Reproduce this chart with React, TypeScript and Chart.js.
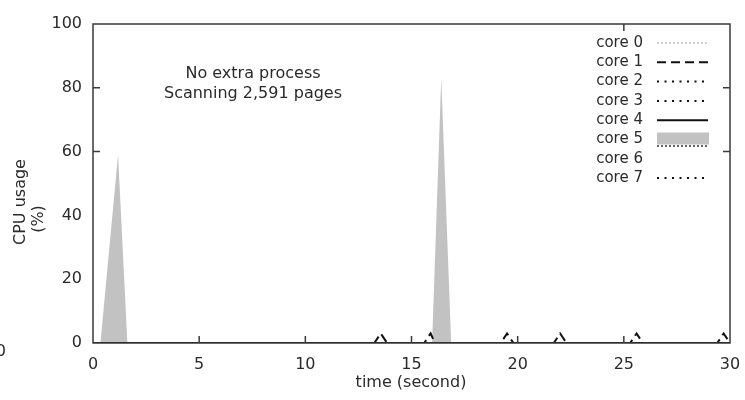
import React, { useEffect, useRef } from "react";
import { Chart, registerables } from "chart.js";

Chart.register(...registerables);

// ---- data ----
const coreLabels = ["core 0", "core 1", "core 2", "core 3", "core 4", "core 5", "core 6", "core 7"];

const flatTime = [0, 30];
const flatVals = [0, 0];

const core1Time = [0, 13.25, 13.55, 13.85, 15.6, 15.9, 16.1, 19.2, 19.5, 19.8, 21.7, 22.0, 22.3, 25.3, 25.6, 25.9, 29.4, 29.7, 30];
const core1Vals = [0, 0, 3, 0, 0, 3, 0, 0, 3, 0, 0, 3, 0, 0, 3, 0, 0, 3, 0];

const core5Time = [0, 0.35, 1.18, 1.62, 15.97, 16.4, 16.87, 30];
const core5Vals = [0, 0, 59, 0, 0, 83, 0, 0];

const xTicks = [0, 5, 10, 15, 20, 25, 30];
const yTicks = [0, 20, 40, 60, 80, 100];
const innerTicksBottom = [5, 10, 15, 20, 25];
const innerTicksTop = [25];
const innerTicksY = [60, 80];

const annotationLines = ["No extra process", "Scanning 2,591 pages"];
const xTitle = "time (second)";
const yTitleLines = ["CPU usage", "(%)"];

const FONT = "DejaVu Sans";
const TEXT = "#2a2a2a";

const toPoints = (t: number[], v: number[]) => t.map((x, i) => ({ x, y: v[i] }));

type LegendStyle = { kind: string; color: string; dash: number[]; width: number };
const legendStyles: LegendStyle[] = [
  { kind: "line", color: "#bdbdbd", dash: [2, 2], width: 1.5 },
  { kind: "line", color: "#111", dash: [9, 5], width: 2 },
  { kind: "line", color: "#111", dash: [2, 5.5], width: 2 },
  { kind: "line", color: "#111", dash: [2, 5.5], width: 2 },
  { kind: "line", color: "#111", dash: [], width: 2 },
  { kind: "box", color: "#c2c2c2", dash: [2, 2], width: 1.5 },
  { kind: "none", color: "#fff", dash: [], width: 0 },
  { kind: "line", color: "#111", dash: [2, 5.5], width: 2 },
];

const decorPlugin = {
  id: "decor",
  afterDatasetsDraw(chart: any) {
    const { ctx, chartArea: a, scales } = chart;
    const xs = scales.x;
    const ys = scales.y;
    ctx.save();
    // border box
    ctx.strokeStyle = "#3a3a3a";
    ctx.lineWidth = 1.5;
    ctx.setLineDash([]);
    ctx.strokeRect(a.left, a.top, a.right - a.left, a.bottom - a.top);
    // inner ticks
    const tl = 7;
    ctx.beginPath();
    innerTicksBottom.forEach((v) => {
      const px = xs.getPixelForValue(v);
      ctx.moveTo(px, a.bottom);
      ctx.lineTo(px, a.bottom - tl);
    });
    innerTicksTop.forEach((v) => {
      const px = xs.getPixelForValue(v);
      ctx.moveTo(px, a.top);
      ctx.lineTo(px, a.top + tl);
    });
    innerTicksY.forEach((v) => {
      const py = ys.getPixelForValue(v);
      ctx.moveTo(a.left, py);
      ctx.lineTo(a.left + tl, py);
      ctx.moveTo(a.right, py);
      ctx.lineTo(a.right - tl, py);
    });
    ctx.stroke();

    // annotation
    ctx.fillStyle = TEXT;
    ctx.font = `16px "${FONT}"`;
    ctx.textAlign = "center";
    ctx.textBaseline = "middle";
    ctx.fillText(annotationLines[0], 253, 74);
    ctx.fillText(annotationLines[1], 253, 94);

    // x title
    ctx.fillText(xTitle, 411, 383);

    // y title
    ctx.save();
    ctx.translate(21, 202);
    ctx.rotate(-Math.PI / 2);
    ctx.fillText(yTitleLines[0], 0, 0);
    ctx.restore();
    ctx.save();
    ctx.translate(39, 219);
    ctx.rotate(-Math.PI / 2);
    ctx.fillText(yTitleLines[1], 0, 0);
    ctx.restore();

    // stray clipped label at the far left
    ctx.textAlign = "right";
    ctx.fillText("0", 6, 352);

    // legend
    ctx.font = `15px "${FONT}"`;
    ctx.textAlign = "right";
    const rowY0 = 43;
    const rowH = 19.3;
    coreLabels.forEach((lab, i) => {
      const y = rowY0 + i * rowH;
      ctx.fillStyle = TEXT;
      ctx.fillText(lab, 643, y);
      const st = legendStyles[i];
      if (st.kind === "line") {
        ctx.beginPath();
        ctx.strokeStyle = st.color;
        ctx.lineWidth = st.width;
        ctx.setLineDash(st.dash);
        ctx.moveTo(657, y);
        ctx.lineTo(708, y);
        ctx.stroke();
      } else if (st.kind === "box") {
        ctx.fillStyle = st.color;
        ctx.fillRect(657, y - 7, 52, 12);
        ctx.beginPath();
        ctx.strokeStyle = "#333";
        ctx.lineWidth = st.width;
        ctx.setLineDash(st.dash);
        ctx.moveTo(657, y + 6.5);
        ctx.lineTo(709, y + 6.5);
        ctx.stroke();
      }
    });
    ctx.restore();
  },
};

const zeroPad = (s: any) => {
  s.paddingLeft = 0;
  s.paddingRight = 0;
  s.paddingTop = 0;
  s.paddingBottom = 0;
};

export default function App() {
  const ref = useRef<HTMLCanvasElement | null>(null);
  useEffect(() => {
    document.body.style.margin = "0";
    if (!ref.current) return;
    const lineDs = (i: number, t: number[], v: number[]) => {
      const st = legendStyles[i];
      return {
        label: coreLabels[i],
        data: toPoints(t, v),
        borderColor: st.color,
        borderWidth: st.width,
        borderDash: st.dash,
        pointRadius: 0,
        fill: false,
        tension: 0,
      };
    };
    const chart = new Chart(ref.current, {
      type: "line",
      data: {
        datasets: [
          lineDs(4, flatTime, flatVals),
          lineDs(1, core1Time, core1Vals),
          lineDs(0, flatTime, flatVals),
          lineDs(2, flatTime, flatVals),
          lineDs(3, flatTime, flatVals),
          lineDs(7, flatTime, flatVals),
          {
            label: coreLabels[5],
            data: toPoints(core5Time, core5Vals),
            borderColor: "#c2c2c2",
            borderWidth: 0,
            backgroundColor: "#c2c2c2",
            pointRadius: 0,
            fill: "origin",
            tension: 0,
          },
        ],
      },
      options: {
        animation: false,
        responsive: false,
        maintainAspectRatio: false,
        layout: { padding: { top: 24, right: 15, left: 0, bottom: 0 } },
        plugins: { legend: { display: false }, tooltip: { enabled: false }, title: { display: false } },
        scales: {
          x: {
            type: "linear",
            min: 0,
            max: 30,
            afterBuildTicks: (s: any) => {
              s.ticks = xTicks.map((v) => ({ value: v }));
            },
            grid: { display: false, drawTicks: false },
            border: { display: false },
            ticks: { color: TEXT, font: { family: FONT, size: 16 }, padding: 12, maxRotation: 0, autoSkip: false },
            afterFit: (s: any) => {
              s.height = 57;
              zeroPad(s);
            },
          },
          y: {
            type: "linear",
            min: 0,
            max: 100,
            afterBuildTicks: (s: any) => {
              s.ticks = yTicks.map((v) => ({ value: v }));
            },
            grid: { display: false, drawTicks: false },
            border: { display: false },
            ticks: { color: TEXT, font: { family: FONT, size: 16 }, padding: 11 },
            afterFit: (s: any) => {
              s.width = 93;
              zeroPad(s);
            },
          },
        },
      },
      plugins: [decorPlugin],
    } as any);
    return () => chart.destroy();
  }, []);
  return (
    <div style={{ width: 745, height: 400 }}>
      <canvas ref={ref} width={745} height={400} style={{ display: "block" }} />
    </div>
  );
}
